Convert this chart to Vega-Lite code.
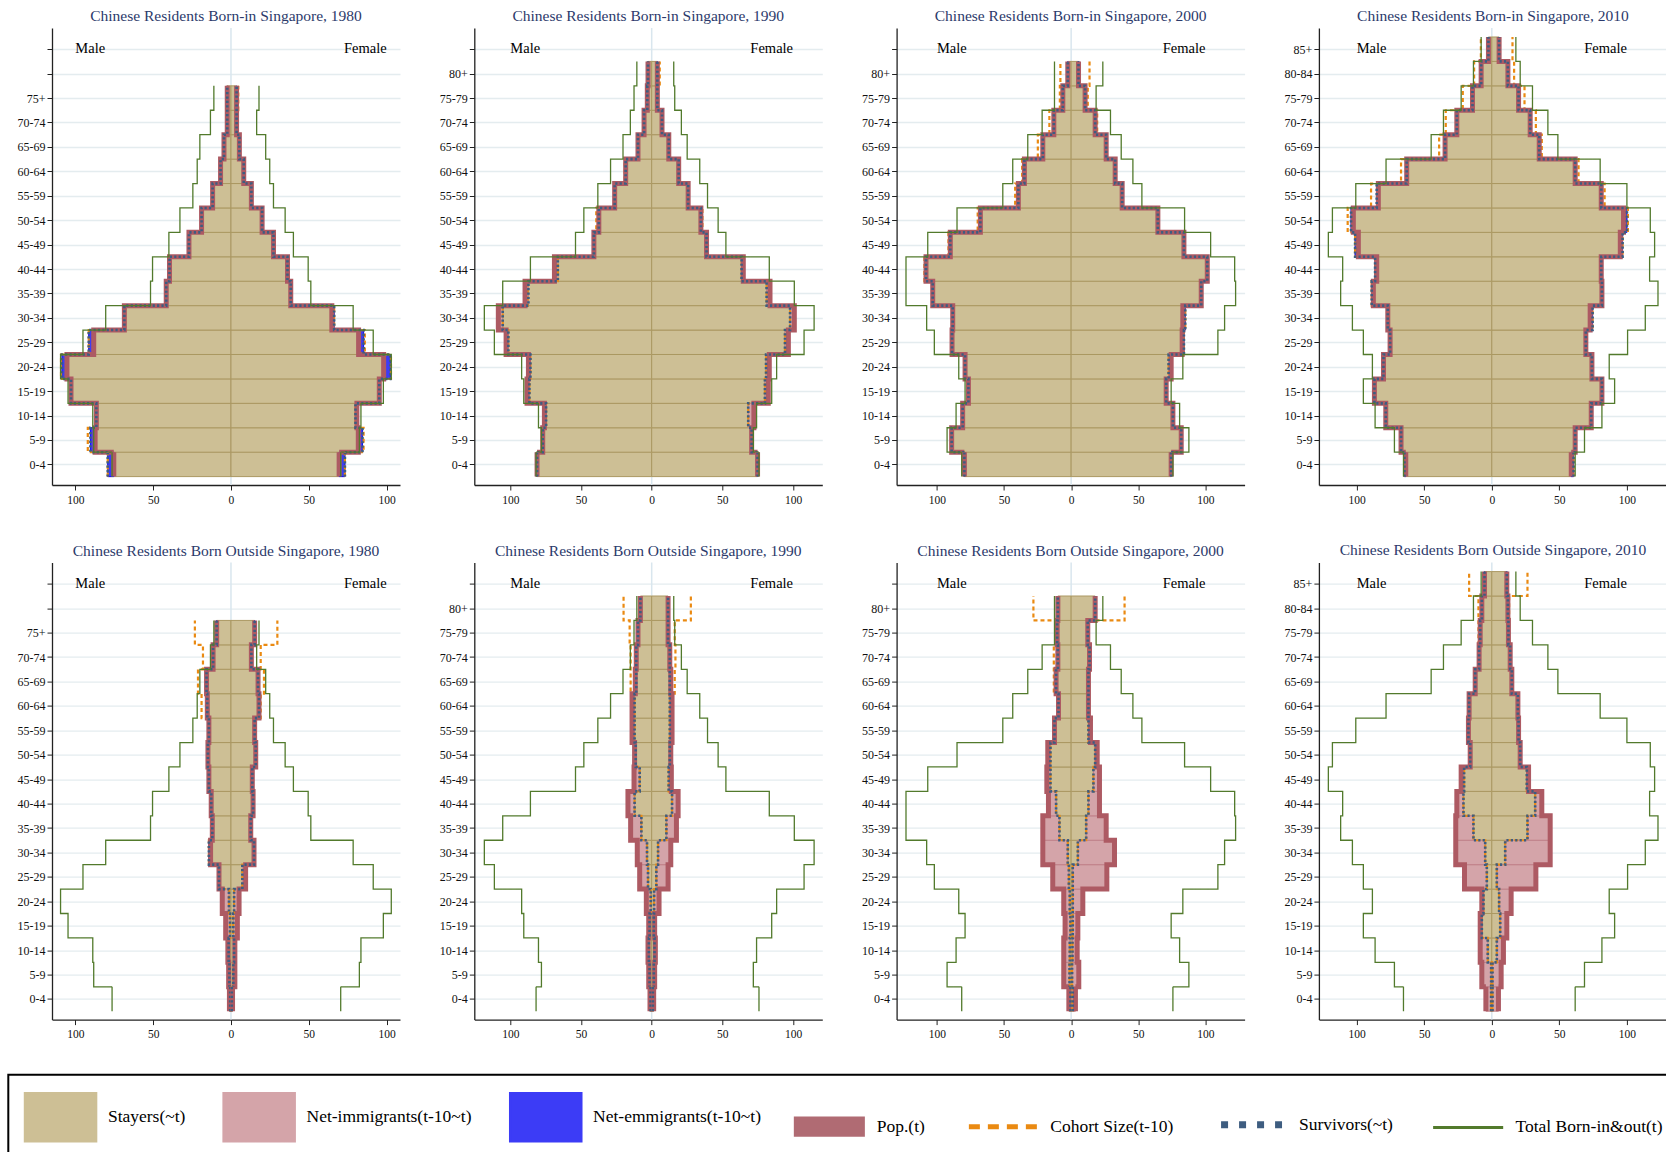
{
"$schema": "https://vega.github.io/schema/vega-lite/v6.json",
"padding": {"left": 0, "top": 8, "right": 0, "bottom": 0},
"background": "white",
"config": {
 "view": {"stroke": null},
 "font": "Liberation Serif",
 "title": {"font": "Liberation Serif", "fontSize": 15.5, "fontWeight": "normal", "color": "#2c3a6b", "frame": "group", "offset": 2.7},
 "axis": {"labelFont": "Liberation Serif", "labelColor": "#111", "domainColor": "#222", "domainWidth": 1.3, "tickColor": "#222", "tickSize": 5, "tickWidth": 1, "gridColor": "#e4ecef", "gridWidth": 1.4, "labelPadding": 2, "labelOverlap": false},
 "axisY": {"grid": true, "labelFontSize": 12, "minExtent": 51.7, "maxExtent": 51.7},
 "axisX": {"grid": false, "labelFontSize": 11.5, "labelPadding": 4, "minExtent": 28, "maxExtent": 28}
},
"datasets": {
 "A": [
  {"s":"M","lo":0,"hi":5,"pop":-75.3,"surv":-79.2,"coh":-79.2,"tot":-76.4},
  {"s":"M","lo":5,"hi":10,"pop":-87.3,"surv":-90.3,"coh":-92,"tot":-88.2},
  {"s":"M","lo":10,"hi":15,"pop":-86.5,"surv":-86.5,"coh":-86.5,"tot":-88.8},
  {"s":"M","lo":15,"hi":20,"pop":-102.8,"surv":-102.8,"coh":-102.8,"tot":-104.7},
  {"s":"M","lo":20,"hi":25,"pop":-105.4,"surv":-108.6,"coh":-109.2,"tot":-109.5},
  {"s":"M","lo":25,"hi":30,"pop":-88.2,"surv":-91.4,"coh":-91.4,"tot":-95.1},
  {"s":"M","lo":30,"hi":35,"pop":-68.5,"surv":-68.5,"coh":-68.5,"tot":-80.5},
  {"s":"M","lo":35,"hi":40,"pop":-41.6,"surv":-41.6,"coh":-41.6,"tot":-51.7},
  {"s":"M","lo":40,"hi":45,"pop":-39.5,"surv":-39.5,"coh":-39.5,"tot":-50.4},
  {"s":"M","lo":45,"hi":50,"pop":-27,"surv":-27,"coh":-27,"tot":-39.9},
  {"s":"M","lo":50,"hi":55,"pop":-18.9,"surv":-18.9,"coh":-18.9,"tot":-32.8},
  {"s":"M","lo":55,"hi":60,"pop":-11.8,"surv":-11.8,"coh":-11.8,"tot":-24.5},
  {"s":"M","lo":60,"hi":65,"pop":-6.7,"surv":-6.7,"coh":-6.7,"tot":-21.7},
  {"s":"M","lo":65,"hi":70,"pop":-4.5,"surv":-4.5,"coh":-4.5,"tot":-20},
  {"s":"M","lo":70,"hi":75,"pop":-2.4,"surv":-2.4,"coh":-2.4,"tot":-13.2},
  {"s":"M","lo":75,"hi":80,"pop":-2.4,"surv":-2.4,"coh":-2.4,"tot":-11},
  {"s":"F","lo":0,"hi":5,"pop":69.5,"surv":73.2,"coh":73.2,"tot":70.5},
  {"s":"F","lo":5,"hi":10,"pop":81.8,"surv":84.5,"coh":85.2,"tot":82.5},
  {"s":"F","lo":10,"hi":15,"pop":80.9,"surv":80,"coh":80,"tot":83.5},
  {"s":"F","lo":15,"hi":20,"pop":95.3,"surv":95.3,"coh":95.3,"tot":97.9},
  {"s":"F","lo":20,"hi":25,"pop":98.1,"surv":102.4,"coh":102.8,"tot":103},
  {"s":"F","lo":25,"hi":30,"pop":82,"surv":85.2,"coh":86,"tot":91.4},
  {"s":"F","lo":30,"hi":35,"pop":64.8,"surv":66.3,"coh":66.3,"tot":78.5},
  {"s":"F","lo":35,"hi":40,"pop":38.4,"surv":38.4,"coh":38.4,"tot":51.3},
  {"s":"F","lo":40,"hi":45,"pop":36.3,"surv":36.3,"coh":36.3,"tot":49.6},
  {"s":"F","lo":45,"hi":50,"pop":27.3,"surv":27.3,"coh":27.3,"tot":40.1},
  {"s":"F","lo":50,"hi":55,"pop":20,"surv":20,"coh":20,"tot":34.8},
  {"s":"F","lo":55,"hi":60,"pop":13.1,"surv":13.1,"coh":13.1,"tot":27.3},
  {"s":"F","lo":60,"hi":65,"pop":8.2,"surv":8.2,"coh":8.2,"tot":24.9},
  {"s":"F","lo":65,"hi":70,"pop":5.4,"surv":5.4,"coh":5.4,"tot":22.3},
  {"s":"F","lo":70,"hi":75,"pop":3.6,"surv":3.6,"coh":3.6,"tot":16.5},
  {"s":"F","lo":75,"hi":80,"pop":3.6,"surv":3.6,"coh":4.7,"tot":18}
 ],
 "E": [
  {"s":"M","lo":0,"hi":5,"pop":-1,"surv":-0.5,"coh":-0.5,"tot":-76.4},
  {"s":"M","lo":5,"hi":10,"pop":-1.5,"surv":-1,"coh":-1,"tot":-88.2},
  {"s":"M","lo":10,"hi":15,"pop":-2,"surv":-1.5,"coh":-1.5,"tot":-88.8},
  {"s":"M","lo":15,"hi":20,"pop":-3.4,"surv":-0.6,"coh":-0.6,"tot":-104.7},
  {"s":"M","lo":20,"hi":25,"pop":-5.6,"surv":-1.3,"coh":-1.3,"tot":-109.5},
  {"s":"M","lo":25,"hi":30,"pop":-7.7,"surv":-7.7,"coh":-7.7,"tot":-95.1},
  {"s":"M","lo":30,"hi":35,"pop":-13.1,"surv":-14.2,"coh":-14.2,"tot":-80.5},
  {"s":"M","lo":35,"hi":40,"pop":-12,"surv":-12,"coh":-12,"tot":-51.7},
  {"s":"M","lo":40,"hi":45,"pop":-12.7,"surv":-12.7,"coh":-12.7,"tot":-50.4},
  {"s":"M","lo":45,"hi":50,"pop":-14.2,"surv":-14.2,"coh":-14.2,"tot":-39.9},
  {"s":"M","lo":50,"hi":55,"pop":-14.8,"surv":-14.8,"coh":-14.8,"tot":-32.8},
  {"s":"M","lo":55,"hi":60,"pop":-14.2,"surv":-14.2,"coh":-14.2,"tot":-24.5},
  {"s":"M","lo":60,"hi":65,"pop":-15.2,"surv":-15.2,"coh":-18.9,"tot":-21.7},
  {"s":"M","lo":65,"hi":70,"pop":-15.7,"surv":-15.7,"coh":-21.2,"tot":-20},
  {"s":"M","lo":70,"hi":75,"pop":-11.5,"surv":-11.5,"coh":-18,"tot":-13.2},
  {"s":"M","lo":75,"hi":80,"pop":-9.2,"surv":-9.2,"coh":-23.2,"tot":-11},
  {"s":"F","lo":0,"hi":5,"pop":1,"surv":0.5,"coh":0.5,"tot":70.5},
  {"s":"F","lo":5,"hi":10,"pop":2.5,"surv":1.5,"coh":1.5,"tot":82.5},
  {"s":"F","lo":10,"hi":15,"pop":2.5,"surv":2,"coh":2,"tot":83.5},
  {"s":"F","lo":15,"hi":20,"pop":4.1,"surv":1.5,"coh":1.5,"tot":97.9},
  {"s":"F","lo":20,"hi":25,"pop":5.2,"surv":2,"coh":2,"tot":103},
  {"s":"F","lo":25,"hi":30,"pop":9.4,"surv":7.3,"coh":7.3,"tot":91.4},
  {"s":"F","lo":30,"hi":35,"pop":14.8,"surv":14.8,"coh":14.8,"tot":78.5},
  {"s":"F","lo":35,"hi":40,"pop":12.7,"surv":12.7,"coh":12.7,"tot":51.3},
  {"s":"F","lo":40,"hi":45,"pop":14.2,"surv":14.2,"coh":14.2,"tot":49.6},
  {"s":"F","lo":45,"hi":50,"pop":13.7,"surv":13.7,"coh":13.7,"tot":40.1},
  {"s":"F","lo":50,"hi":55,"pop":15.9,"surv":15.9,"coh":15.9,"tot":34.8},
  {"s":"F","lo":55,"hi":60,"pop":15.2,"surv":15.2,"coh":15.2,"tot":27.3},
  {"s":"F","lo":60,"hi":65,"pop":18,"surv":18,"coh":19.1,"tot":24.9},
  {"s":"F","lo":65,"hi":70,"pop":17.4,"surv":17.4,"coh":21.2,"tot":22.3},
  {"s":"F","lo":70,"hi":75,"pop":13.1,"surv":13.1,"coh":19.1,"tot":16.5},
  {"s":"F","lo":75,"hi":80,"pop":15.2,"surv":15.2,"coh":29.8,"tot":18}
 ],
 "B": [
  {"s":"M","lo":0,"hi":5,"pop":-81.1,"surv":-81.1,"coh":-81.1,"tot":-81.8},
  {"s":"M","lo":5,"hi":10,"pop":-77.1,"surv":-77.1,"coh":-77.1,"tot":-78},
  {"s":"M","lo":10,"hi":15,"pop":-75.9,"surv":-74.7,"coh":-74.7,"tot":-80.1},
  {"s":"M","lo":15,"hi":20,"pop":-88.2,"surv":-86.5,"coh":-86.5,"tot":-90.5},
  {"s":"M","lo":20,"hi":25,"pop":-87.2,"surv":-85.8,"coh":-85.8,"tot":-92},
  {"s":"M","lo":25,"hi":30,"pop":-103,"surv":-101.4,"coh":-101.4,"tot":-111.3},
  {"s":"M","lo":30,"hi":35,"pop":-108.5,"surv":-105.4,"coh":-105.4,"tot":-118.4},
  {"s":"M","lo":35,"hi":40,"pop":-89.6,"surv":-87.2,"coh":-87.7,"tot":-105.4},
  {"s":"M","lo":40,"hi":45,"pop":-68.8,"surv":-66.4,"coh":-66.4,"tot":-85.8},
  {"s":"M","lo":45,"hi":50,"pop":-40.9,"surv":-40.9,"coh":-40.9,"tot":-53.9},
  {"s":"M","lo":50,"hi":55,"pop":-37.4,"surv":-37.4,"coh":-39.2,"tot":-48},
  {"s":"M","lo":55,"hi":60,"pop":-26.2,"surv":-26.2,"coh":-26.2,"tot":-38.1},
  {"s":"M","lo":60,"hi":65,"pop":-18.4,"surv":-18.4,"coh":-19.1,"tot":-29.1},
  {"s":"M","lo":65,"hi":70,"pop":-9.7,"surv":-9.7,"coh":-9.7,"tot":-20.3},
  {"s":"M","lo":70,"hi":75,"pop":-5.4,"surv":-5.4,"coh":-5.4,"tot":-15.1},
  {"s":"M","lo":75,"hi":80,"pop":-3.1,"surv":-3.1,"coh":-3.1,"tot":-12.5},
  {"s":"M","lo":80,"hi":85,"pop":-2.6,"surv":-2.6,"coh":-2.6,"tot":-10.5},
  {"s":"F","lo":0,"hi":5,"pop":74.9,"surv":74.9,"coh":74.9,"tot":75.9},
  {"s":"F","lo":5,"hi":10,"pop":70.7,"surv":70.7,"coh":70.7,"tot":71.9},
  {"s":"F","lo":10,"hi":15,"pop":72.3,"surv":68.3,"coh":68.3,"tot":74.2},
  {"s":"F","lo":15,"hi":20,"pop":82.5,"surv":80.1,"coh":80.1,"tot":84.9},
  {"s":"F","lo":20,"hi":25,"pop":83.2,"surv":80.9,"coh":80.9,"tot":88.4},
  {"s":"F","lo":25,"hi":30,"pop":96.7,"surv":94.3,"coh":94.3,"tot":107.8},
  {"s":"F","lo":30,"hi":35,"pop":100.9,"surv":97.9,"coh":97.9,"tot":114.9},
  {"s":"F","lo":35,"hi":40,"pop":83.7,"surv":81.3,"coh":81.3,"tot":100.9},
  {"s":"F","lo":40,"hi":45,"pop":64.8,"surv":63.6,"coh":63.6,"tot":83.2},
  {"s":"F","lo":45,"hi":50,"pop":38.8,"surv":38.8,"coh":38.8,"tot":52.5},
  {"s":"F","lo":50,"hi":55,"pop":34.8,"surv":34.8,"coh":35.9,"tot":47},
  {"s":"F","lo":55,"hi":60,"pop":25.8,"surv":25.8,"coh":25.8,"tot":39.5},
  {"s":"F","lo":60,"hi":65,"pop":19.1,"surv":19.1,"coh":19.1,"tot":34},
  {"s":"F","lo":65,"hi":70,"pop":12.1,"surv":12.1,"coh":12.1,"tot":25.1},
  {"s":"F","lo":70,"hi":75,"pop":7.3,"surv":7.3,"coh":7.3,"tot":21},
  {"s":"F","lo":75,"hi":80,"pop":4,"surv":4,"coh":4,"tot":16.3},
  {"s":"F","lo":80,"hi":85,"pop":4,"surv":4,"coh":5.7,"tot":15.6}
 ],
 "F": [
  {"s":"M","lo":0,"hi":5,"pop":-1.2,"surv":-0.8,"coh":-0.8,"tot":-81.8},
  {"s":"M","lo":5,"hi":10,"pop":-2.1,"surv":-1.5,"coh":-1.5,"tot":-78},
  {"s":"M","lo":10,"hi":15,"pop":-2.6,"surv":-2,"coh":-2,"tot":-80.1},
  {"s":"M","lo":15,"hi":20,"pop":-2.1,"surv":-1.5,"coh":-1.5,"tot":-90.5},
  {"s":"M","lo":20,"hi":25,"pop":-3.8,"surv":-0.7,"coh":-0.7,"tot":-92},
  {"s":"M","lo":25,"hi":30,"pop":-8.5,"surv":-2.6,"coh":-2.6,"tot":-111.3},
  {"s":"M","lo":30,"hi":35,"pop":-10.2,"surv":-3.3,"coh":-3.3,"tot":-118.4},
  {"s":"M","lo":35,"hi":40,"pop":-14.9,"surv":-7.3,"coh":-7.3,"tot":-105.4},
  {"s":"M","lo":40,"hi":45,"pop":-16.8,"surv":-12.1,"coh":-12.1,"tot":-85.8},
  {"s":"M","lo":45,"hi":50,"pop":-12.5,"surv":-8.5,"coh":-8.5,"tot":-53.9},
  {"s":"M","lo":50,"hi":55,"pop":-12.1,"surv":-11.3,"coh":-11.3,"tot":-48},
  {"s":"M","lo":55,"hi":60,"pop":-13.9,"surv":-12.1,"coh":-12.1,"tot":-38.1},
  {"s":"M","lo":60,"hi":65,"pop":-13.9,"surv":-12.1,"coh":-12.1,"tot":-29.1},
  {"s":"M","lo":65,"hi":70,"pop":-11.6,"surv":-10.9,"coh":-14.9,"tot":-20.3},
  {"s":"M","lo":70,"hi":75,"pop":-10.9,"surv":-10.9,"coh":-14.9,"tot":-15.1},
  {"s":"M","lo":75,"hi":80,"pop":-9.7,"surv":-9.7,"coh":-15.6,"tot":-12.5},
  {"s":"M","lo":80,"hi":85,"pop":-8,"surv":-8,"coh":-19.9,"tot":-10.5},
  {"s":"F","lo":0,"hi":5,"pop":1.4,"surv":0.8,"coh":0.8,"tot":75.9},
  {"s":"F","lo":5,"hi":10,"pop":2.1,"surv":1.5,"coh":1.5,"tot":71.9},
  {"s":"F","lo":10,"hi":15,"pop":2.6,"surv":2,"coh":2,"tot":74.2},
  {"s":"F","lo":15,"hi":20,"pop":2.1,"surv":1.5,"coh":1.5,"tot":84.9},
  {"s":"F","lo":20,"hi":25,"pop":5.2,"surv":1.7,"coh":1.7,"tot":88.4},
  {"s":"F","lo":25,"hi":30,"pop":11.6,"surv":3.3,"coh":3.3,"tot":107.8},
  {"s":"F","lo":30,"hi":35,"pop":13.5,"surv":4.5,"coh":4.5,"tot":114.9},
  {"s":"F","lo":35,"hi":40,"pop":17.5,"surv":10.4,"coh":10.4,"tot":100.9},
  {"s":"F","lo":40,"hi":45,"pop":18.7,"surv":14.4,"coh":14.4,"tot":83.2},
  {"s":"F","lo":45,"hi":50,"pop":13.9,"surv":12,"coh":12,"tot":52.5},
  {"s":"F","lo":50,"hi":55,"pop":13.5,"surv":12.8,"coh":12.8,"tot":47},
  {"s":"F","lo":55,"hi":60,"pop":14.4,"surv":12.8,"coh":12.8,"tot":39.5},
  {"s":"F","lo":60,"hi":65,"pop":14.4,"surv":12.8,"coh":12.8,"tot":34},
  {"s":"F","lo":65,"hi":70,"pop":13.5,"surv":12.8,"coh":16.3,"tot":25.1},
  {"s":"F","lo":70,"hi":75,"pop":12.8,"surv":12.8,"coh":16.8,"tot":21},
  {"s":"F","lo":75,"hi":80,"pop":11.6,"surv":11.6,"coh":16.3,"tot":16.3},
  {"s":"F","lo":80,"hi":85,"pop":11.6,"surv":11.6,"coh":27.7,"tot":15.6}
 ],
 "C": [
  {"s":"M","lo":0,"hi":5,"pop":-79.5,"surv":-79.5,"coh":-79.5,"tot":-81.5},
  {"s":"M","lo":5,"hi":10,"pop":-89,"surv":-89,"coh":-89,"tot":-92.4},
  {"s":"M","lo":10,"hi":15,"pop":-80.8,"surv":-80.8,"coh":-80.8,"tot":-85.7},
  {"s":"M","lo":15,"hi":20,"pop":-76.5,"surv":-76.5,"coh":-76.5,"tot":-79},
  {"s":"M","lo":20,"hi":25,"pop":-79,"surv":-79,"coh":-79,"tot":-83.7},
  {"s":"M","lo":25,"hi":30,"pop":-88.7,"surv":-88.7,"coh":-88.7,"tot":-101.9},
  {"s":"M","lo":30,"hi":35,"pop":-88.2,"surv":-88.2,"coh":-88.2,"tot":-107.6},
  {"s":"M","lo":35,"hi":40,"pop":-103.1,"surv":-103.1,"coh":-103.1,"tot":-123},
  {"s":"M","lo":40,"hi":45,"pop":-108.1,"surv":-108.1,"coh":-109.3,"tot":-123},
  {"s":"M","lo":45,"hi":50,"pop":-90,"surv":-90,"coh":-91.4,"tot":-106.8},
  {"s":"M","lo":50,"hi":55,"pop":-67.6,"surv":-67.6,"coh":-69.6,"tot":-85},
  {"s":"M","lo":55,"hi":60,"pop":-39.3,"surv":-39.3,"coh":-41.7,"tot":-50.9},
  {"s":"M","lo":60,"hi":65,"pop":-34.8,"surv":-34.8,"coh":-36.5,"tot":-43.5},
  {"s":"M","lo":65,"hi":70,"pop":-21.1,"surv":-21.1,"coh":-24.8,"tot":-32.3},
  {"s":"M","lo":70,"hi":75,"pop":-12.9,"surv":-12.9,"coh":-16.2,"tot":-21.6},
  {"s":"M","lo":75,"hi":80,"pop":-6.2,"surv":-6.2,"coh":-8.4,"tot":-12.4},
  {"s":"M","lo":80,"hi":85,"pop":-2.5,"surv":-2.5,"coh":-8,"tot":-12.4},
  {"s":"F","lo":0,"hi":5,"pop":74.5,"surv":74.5,"coh":74.5,"tot":75.8},
  {"s":"F","lo":5,"hi":10,"pop":82,"surv":82,"coh":82,"tot":87.7},
  {"s":"F","lo":10,"hi":15,"pop":75.8,"surv":75.8,"coh":75.8,"tot":80.8},
  {"s":"F","lo":15,"hi":20,"pop":70.8,"surv":70.8,"coh":70.8,"tot":74.5},
  {"s":"F","lo":20,"hi":25,"pop":74.5,"surv":72.6,"coh":72.6,"tot":83.2},
  {"s":"F","lo":25,"hi":30,"pop":82.7,"surv":84,"coh":84,"tot":109.3},
  {"s":"F","lo":30,"hi":35,"pop":83.2,"surv":85,"coh":85,"tot":114.3},
  {"s":"F","lo":35,"hi":40,"pop":96.9,"surv":96.9,"coh":96.9,"tot":122.5},
  {"s":"F","lo":40,"hi":45,"pop":101.4,"surv":101.4,"coh":101.4,"tot":121.8},
  {"s":"F","lo":45,"hi":50,"pop":84,"surv":84,"coh":84,"tot":103.9},
  {"s":"F","lo":50,"hi":55,"pop":64.6,"surv":64.6,"coh":64.6,"tot":84.5},
  {"s":"F","lo":55,"hi":60,"pop":38,"surv":38,"coh":38,"tot":52.7},
  {"s":"F","lo":60,"hi":65,"pop":32.8,"surv":32.8,"coh":32.8,"tot":46},
  {"s":"F","lo":65,"hi":70,"pop":26.1,"surv":26.1,"coh":26.1,"tot":37.3},
  {"s":"F","lo":70,"hi":75,"pop":17.9,"surv":17.9,"coh":19.4,"tot":29.3},
  {"s":"F","lo":75,"hi":80,"pop":10.4,"surv":10.4,"coh":12.4,"tot":18.6},
  {"s":"F","lo":80,"hi":85,"pop":5.5,"surv":5.5,"coh":13.7,"tot":23.6}
 ],
 "G": [
  {"s":"M","lo":0,"hi":5,"pop":-1.7,"surv":-0.5,"coh":-0.5,"tot":-81.5},
  {"s":"M","lo":5,"hi":10,"pop":-5.5,"surv":-1.2,"coh":-1.2,"tot":-92.4},
  {"s":"M","lo":10,"hi":15,"pop":-5.5,"surv":-1,"coh":-1,"tot":-85.7},
  {"s":"M","lo":15,"hi":20,"pop":-4.5,"surv":-0.5,"coh":-0.5,"tot":-79},
  {"s":"M","lo":20,"hi":25,"pop":-5.5,"surv":-1,"coh":-1,"tot":-83.7},
  {"s":"M","lo":25,"hi":30,"pop":-13.7,"surv":-1.7,"coh":-1.7,"tot":-101.9},
  {"s":"M","lo":30,"hi":35,"pop":-21.1,"surv":-2.5,"coh":-2.5,"tot":-107.6},
  {"s":"M","lo":35,"hi":40,"pop":-21.1,"surv":-8.7,"coh":-8.7,"tot":-123},
  {"s":"M","lo":40,"hi":45,"pop":-16.9,"surv":-11.2,"coh":-11.2,"tot":-123},
  {"s":"M","lo":45,"hi":50,"pop":-18.1,"surv":-15.4,"coh":-15.4,"tot":-106.8},
  {"s":"M","lo":50,"hi":55,"pop":-17.4,"surv":-15.4,"coh":-15.4,"tot":-85},
  {"s":"M","lo":55,"hi":60,"pop":-12.4,"surv":-12.4,"coh":-12.4,"tot":-50.9},
  {"s":"M","lo":60,"hi":65,"pop":-9.4,"surv":-9.4,"coh":-9.4,"tot":-43.5},
  {"s":"M","lo":65,"hi":70,"pop":-11.2,"surv":-11.2,"coh":-12.9,"tot":-32.3},
  {"s":"M","lo":70,"hi":75,"pop":-9.9,"surv":-9.9,"coh":-12.9,"tot":-21.6},
  {"s":"M","lo":75,"hi":80,"pop":-10.4,"surv":-10.4,"coh":-11.9,"tot":-12.4},
  {"s":"M","lo":80,"hi":85,"pop":-9.9,"surv":-9.9,"coh":-28.1,"tot":-12.4},
  {"s":"F","lo":0,"hi":5,"pop":3.2,"surv":1.2,"coh":1.2,"tot":75.8},
  {"s":"F","lo":5,"hi":10,"pop":5.7,"surv":0.7,"coh":0.7,"tot":87.7},
  {"s":"F","lo":10,"hi":15,"pop":4.5,"surv":1,"coh":1,"tot":80.8},
  {"s":"F","lo":15,"hi":20,"pop":5,"surv":1.2,"coh":1.2,"tot":74.5},
  {"s":"F","lo":20,"hi":25,"pop":8.7,"surv":1.2,"coh":1.2,"tot":83.2},
  {"s":"F","lo":25,"hi":30,"pop":26.6,"surv":1.2,"coh":1.2,"tot":109.3},
  {"s":"F","lo":30,"hi":35,"pop":32.3,"surv":5,"coh":5,"tot":114.3},
  {"s":"F","lo":35,"hi":40,"pop":26.1,"surv":11.2,"coh":11.2,"tot":122.5},
  {"s":"F","lo":40,"hi":45,"pop":21.1,"surv":12.9,"coh":12.9,"tot":121.8},
  {"s":"F","lo":45,"hi":50,"pop":21.1,"surv":16.6,"coh":16.6,"tot":103.9},
  {"s":"F","lo":50,"hi":55,"pop":19.4,"surv":17.9,"coh":17.9,"tot":84.5},
  {"s":"F","lo":55,"hi":60,"pop":14.4,"surv":12.9,"coh":12.9,"tot":52.7},
  {"s":"F","lo":60,"hi":65,"pop":12.9,"surv":12.9,"coh":12.9,"tot":46},
  {"s":"F","lo":65,"hi":70,"pop":12.9,"surv":12.9,"coh":12.9,"tot":37.3},
  {"s":"F","lo":70,"hi":75,"pop":13.7,"surv":13.7,"coh":13.7,"tot":29.3},
  {"s":"F","lo":75,"hi":80,"pop":12.4,"surv":12.4,"coh":12.9,"tot":18.6},
  {"s":"F","lo":80,"hi":85,"pop":17.9,"surv":17.9,"coh":39.8,"tot":23.6}
 ],
 "D": [
  {"s":"M","lo":0,"hi":5,"pop":-63.7,"surv":-64.7,"coh":-64.7,"tot":-65.4},
  {"s":"M","lo":5,"hi":10,"pop":-67.2,"surv":-67.2,"coh":-67.2,"tot":-72.1},
  {"s":"M","lo":10,"hi":15,"pop":-78.5,"surv":-78.5,"coh":-78.5,"tot":-86.4},
  {"s":"M","lo":15,"hi":20,"pop":-86.9,"surv":-86.9,"coh":-86.9,"tot":-95.1},
  {"s":"M","lo":20,"hi":25,"pop":-80.2,"surv":-80.2,"coh":-80.2,"tot":-88.4},
  {"s":"M","lo":25,"hi":30,"pop":-75.3,"surv":-75.3,"coh":-75.3,"tot":-95.1},
  {"s":"M","lo":30,"hi":35,"pop":-77,"surv":-77,"coh":-77,"tot":-103.2},
  {"s":"M","lo":35,"hi":40,"pop":-87.7,"surv":-88.9,"coh":-88.9,"tot":-111.9},
  {"s":"M","lo":40,"hi":45,"pop":-85.2,"surv":-86.4,"coh":-86.4,"tot":-110.4},
  {"s":"M","lo":45,"hi":50,"pop":-98.8,"surv":-101.2,"coh":-101.2,"tot":-121},
  {"s":"M","lo":50,"hi":55,"pop":-102.5,"surv":-104.2,"coh":-106.7,"tot":-118},
  {"s":"M","lo":55,"hi":60,"pop":-84,"surv":-85.2,"coh":-89.4,"tot":-100.7},
  {"s":"M","lo":60,"hi":65,"pop":-63,"surv":-63,"coh":-67.2,"tot":-78.3},
  {"s":"M","lo":65,"hi":70,"pop":-34.6,"surv":-34.6,"coh":-39,"tot":-44.9},
  {"s":"M","lo":70,"hi":75,"pop":-25.9,"surv":-25.9,"coh":-34.1,"tot":-35.8},
  {"s":"M","lo":75,"hi":80,"pop":-14.3,"surv":-14.3,"coh":-21.5,"tot":-22.7},
  {"s":"M","lo":80,"hi":85,"pop":-7.9,"surv":-7.9,"coh":-13.1,"tot":-13.6},
  {"s":"M","lo":85,"hi":90,"pop":-2.5,"surv":-2.5,"coh":-8.1,"tot":-7.9},
  {"s":"F","lo":0,"hi":5,"pop":58.8,"surv":60.5,"coh":60.5,"tot":61.7},
  {"s":"F","lo":5,"hi":10,"pop":61.7,"surv":61.7,"coh":61.7,"tot":68.6},
  {"s":"F","lo":10,"hi":15,"pop":73.6,"surv":73.6,"coh":73.6,"tot":81.5},
  {"s":"F","lo":15,"hi":20,"pop":81.5,"surv":81.5,"coh":81.5,"tot":90.9},
  {"s":"F","lo":20,"hi":25,"pop":74.1,"surv":74.1,"coh":74.1,"tot":86.9},
  {"s":"F","lo":25,"hi":30,"pop":69.6,"surv":69.6,"coh":69.6,"tot":100.5},
  {"s":"F","lo":30,"hi":35,"pop":72.8,"surv":74.6,"coh":74.6,"tot":113.6},
  {"s":"F","lo":35,"hi":40,"pop":81.5,"surv":81.5,"coh":81.5,"tot":123},
  {"s":"F","lo":40,"hi":45,"pop":81,"surv":81,"coh":81,"tot":116.8},
  {"s":"F","lo":45,"hi":50,"pop":95.1,"surv":96.8,"coh":96.8,"tot":120.5},
  {"s":"F","lo":50,"hi":55,"pop":97.5,"surv":100,"coh":100.7,"tot":117.3},
  {"s":"F","lo":55,"hi":60,"pop":81,"surv":81,"coh":83.5,"tot":100},
  {"s":"F","lo":60,"hi":65,"pop":61.7,"surv":61.7,"coh":64.2,"tot":80.2},
  {"s":"F","lo":65,"hi":70,"pop":35.1,"surv":35.1,"coh":37,"tot":48.9},
  {"s":"F","lo":70,"hi":75,"pop":28.4,"surv":28.4,"coh":32.6,"tot":41.5},
  {"s":"F","lo":75,"hi":80,"pop":19.8,"surv":19.8,"coh":24.2,"tot":30.1},
  {"s":"F","lo":80,"hi":85,"pop":11.9,"surv":11.9,"coh":16.5,"tot":21},
  {"s":"F","lo":85,"hi":90,"pop":5.4,"surv":5.4,"coh":15.3,"tot":17.8}
 ],
 "H": [
  {"s":"M","lo":0,"hi":5,"pop":-4.4,"surv":-0.5,"coh":-0.5,"tot":-65.4},
  {"s":"M","lo":5,"hi":10,"pop":-7.4,"surv":-0.5,"coh":-0.5,"tot":-72.1},
  {"s":"M","lo":10,"hi":15,"pop":-8.6,"surv":-3,"coh":-3,"tot":-86.4},
  {"s":"M","lo":15,"hi":20,"pop":-8.6,"surv":-7.4,"coh":-7.4,"tot":-95.1},
  {"s":"M","lo":20,"hi":25,"pop":-7.4,"surv":-6.2,"coh":-6.2,"tot":-88.4},
  {"s":"M","lo":25,"hi":30,"pop":-20.2,"surv":-3.7,"coh":-3.7,"tot":-95.1},
  {"s":"M","lo":30,"hi":35,"pop":-26.7,"surv":-4.9,"coh":-4.9,"tot":-103.2},
  {"s":"M","lo":35,"hi":40,"pop":-26.7,"surv":-13.6,"coh":-13.6,"tot":-111.9},
  {"s":"M","lo":40,"hi":45,"pop":-25.9,"surv":-21,"coh":-21,"tot":-110.4},
  {"s":"M","lo":45,"hi":50,"pop":-22.7,"surv":-20.5,"coh":-20.5,"tot":-121},
  {"s":"M","lo":50,"hi":55,"pop":-16,"surv":-16,"coh":-16,"tot":-118},
  {"s":"M","lo":55,"hi":60,"pop":-17.3,"surv":-17.3,"coh":-17.3,"tot":-100.7},
  {"s":"M","lo":60,"hi":65,"pop":-16.8,"surv":-16.8,"coh":-16.8,"tot":-78.3},
  {"s":"M","lo":65,"hi":70,"pop":-12.3,"surv":-12.3,"coh":-12.3,"tot":-44.9},
  {"s":"M","lo":70,"hi":75,"pop":-9.4,"surv":-9.4,"coh":-9.4,"tot":-35.8},
  {"s":"M","lo":75,"hi":80,"pop":-8.6,"surv":-8.6,"coh":-9.9,"tot":-22.7},
  {"s":"M","lo":80,"hi":85,"pop":-7.4,"surv":-7.4,"coh":-9.9,"tot":-13.6},
  {"s":"M","lo":85,"hi":90,"pop":-5.4,"surv":-5.4,"coh":-16.8,"tot":-7.9},
  {"s":"F","lo":0,"hi":5,"pop":4.9,"surv":0.5,"coh":0.5,"tot":61.7},
  {"s":"F","lo":5,"hi":10,"pop":6.9,"surv":0.5,"coh":0.5,"tot":68.6},
  {"s":"F","lo":10,"hi":15,"pop":8.6,"surv":3.7,"coh":3.7,"tot":81.5},
  {"s":"F","lo":15,"hi":20,"pop":11.1,"surv":6.2,"coh":6.2,"tot":90.9},
  {"s":"F","lo":20,"hi":25,"pop":14.3,"surv":5.4,"coh":5.4,"tot":86.9},
  {"s":"F","lo":25,"hi":30,"pop":32.6,"surv":3.7,"coh":3.7,"tot":100.5},
  {"s":"F","lo":30,"hi":35,"pop":43.2,"surv":9.9,"coh":9.9,"tot":113.6},
  {"s":"F","lo":35,"hi":40,"pop":43.2,"surv":26.4,"coh":26.4,"tot":123},
  {"s":"F","lo":40,"hi":45,"pop":37,"surv":32.1,"coh":32.1,"tot":116.8},
  {"s":"F","lo":45,"hi":50,"pop":27.2,"surv":25.9,"coh":25.9,"tot":120.5},
  {"s":"F","lo":50,"hi":55,"pop":21,"surv":21,"coh":21,"tot":117.3},
  {"s":"F","lo":55,"hi":60,"pop":19.8,"surv":19.8,"coh":19.8,"tot":100},
  {"s":"F","lo":60,"hi":65,"pop":19.3,"surv":19.3,"coh":19.3,"tot":80.2},
  {"s":"F","lo":65,"hi":70,"pop":14.8,"surv":14.8,"coh":14.8,"tot":48.9},
  {"s":"F","lo":70,"hi":75,"pop":13.6,"surv":13.6,"coh":13.6,"tot":41.5},
  {"s":"F","lo":75,"hi":80,"pop":12.3,"surv":12.3,"coh":12.8,"tot":30.1},
  {"s":"F","lo":80,"hi":85,"pop":11.9,"surv":11.9,"coh":12.8,"tot":21},
  {"s":"F","lo":85,"hi":90,"pop":11.1,"surv":11.1,"coh":26.4,"tot":17.8}
 ]
},
"columns": 4,
"spacing": {"row": 29.6, "column": 22.3},
"concat": [
 {"title": "Chinese Residents Born-in Singapore, 1980", "width": 348, "height": 457, "data": {"name": "A"},
  "layer": [
   {"data": {"values": [{}]}, "mark": {"type": "rule", "color": "#d9e6ee", "strokeWidth": 1.5}, "encoding": {"x": {"datum": 0, "type": "quantitative", "scale": {"domain": [-115, 108.6], "nice": false, "zero": false}, "axis": {"title": null, "labelOverlap": false, "tickCount": 40, "values": [-100,-50,0,50,100], "labelExpr": "abs(datum.value)"}}}},
   {"mark": {"type": "bar", "fill": "#cdbf95", "stroke": "#ab9862", "strokeWidth": 1}, "encoding": {"x": {"field": "surv", "type": "quantitative", "title": null}, "x2": {"datum": 0}, "y": {"field": "lo", "type": "quantitative", "title": null, "scale": {"domain": [-1.72, 91.84], "nice": false, "zero": false}, "axis": {"title": null, "labelOverlap": false, "tickCount": 40, "values": [2.5,7.5,12.5,17.5,22.5,27.5,32.5,37.5,42.5,47.5,52.5,57.5,62.5,67.5,72.5,77.5,82.5,87.5], "labelExpr": "datum.value < 75 ? (datum.value - 2.5) + '-' + (datum.value + 1.5) : datum.value == 77.5 ? '75+' : ''"}}, "y2": {"field": "hi"}}},
   {"mark": {"type": "bar", "strokeWidth": 1}, "encoding": {"x": {"field": "surv", "type": "quantitative", "title": null}, "x2": {"field": "pop"}, "y": {"field": "lo", "type": "quantitative", "title": null}, "y2": {"field": "hi"}, "fill": {"condition": {"test": "abs(datum.pop) > abs(datum.surv)", "value": "#d4a4a9"}, "value": "#3c3cf6"}, "stroke": {"condition": {"test": "abs(datum.pop) > abs(datum.surv)", "value": "#c08189"}, "value": "#1010ff"}}},
   {"transform": [{"fold": ["coh","pop","surv","tot"], "as": ["series","v"]}], "mark": {"type": "line", "interpolate": "step-after"}, "encoding": {"x": {"field": "v", "type": "quantitative", "title": null}, "y": {"field": "hi", "type": "quantitative", "title": null}, "order": {"field": "hi", "type": "quantitative"}, "detail": {"field": "s", "type": "nominal"},
     "color": {"field": "series", "type": "nominal", "scale": {"domain": ["stay","imm","emi","pop","coh","surv","tot"], "range": ["#cdbf95","#d4a4a9","#3c3cf6","#ad5a63","#ea8a12","#3e5d80","#527a2c"]},
       "legend": {"title": " ", "titleFontSize": 1, "titlePadding": 13, "orient": "none", "legendX": -43.7, "legendY": 1046.8, "direction": "horizontal", "columns": 7, "symbolSize": 2304, "symbolOffset": 24, "labelOffset": 38.6, "columnPadding": 32.6, "padding": 19.5, "labelFont": "Liberation Serif", "labelFontSize": 17.5, "labelColor": "#000", "labelLimit": 400, "strokeColor": "#000",
         "labelExpr": "datum.value == 'stay' ? 'Stayers(~t)' : datum.value == 'imm' ? 'Net-immigrants(t-10~t)' : datum.value == 'emi' ? 'Net-emmigrants(t-10~t)' : datum.value == 'pop' ? 'Pop.(t)' : datum.value == 'coh' ? 'Cohort Size(t-10)' : datum.value == 'surv' ? 'Survivors(~t)' : 'Total Born-in&out(t)'",
         "encode": {
           "symbols": {"update": {
             "shape": {"signal": "datum.value == 'pop' ? 'M-1.48,-0.42H1.48V0.42H-1.48Z' : datum.value == 'coh' ? 'M-1.42,0H1.42' : datum.value == 'surv' ? 'M-1.27,0H1.27' : datum.value == 'tot' ? 'M-1.46,0H1.46' : 'M-1.48,-1H1.48V1H-1.48Z'"},
             "fill": {"signal": "datum.value == 'stay' ? '#cdbf95' : datum.value == 'imm' ? '#d4a4a9' : datum.value == 'emi' ? '#3c3cf6' : datum.value == 'pop' ? '#b06b73' : 'transparent'"},
             "stroke": {"signal": "datum.value == 'stay' ? '#ab9862' : datum.value == 'imm' ? '#b0646c' : datum.value == 'emi' ? '#0000ff' : datum.value == 'pop' ? '#b06b73' : datum.value == 'coh' ? '#ea8a12' : datum.value == 'surv' ? '#5b7ea5' : '#5a7d34'"},
             "strokeWidth": {"signal": "datum.value == 'coh' ? 5 : datum.value == 'surv' ? 7 : datum.value == 'tot' ? 3 : datum.value == 'pop' ? 0 : 2.5"},
             "strokeDash": {"signal": "datum.value == 'coh' ? [11,8] : datum.value == 'surv' ? [7,11] : [1,0]"},
             "size": {"value": 2304},
             "opacity": {"value": 1}
           }},
           "legend": {"update": {"strokeWidth": {"value": 2}}}
         }}},
     "strokeDash": {"condition": [{"test": "datum.series == 'coh'", "value": [4,3]}, {"test": "datum.series == 'surv'", "value": [2.2,2.2]}], "value": [1,0]},
     "strokeWidth": {"condition": [{"test": "datum.series == 'pop'", "value": 5}, {"test": "datum.series == 'tot'", "value": 1.3}, {"test": "datum.series == 'coh'", "value": 2.2}], "value": 2.6}}},
   {"transform": [{"fold": ["coh","pop","surv","tot"], "as": ["series","v"]}, {"filter": "datum.lo == 0"}], "mark": {"type": "rule"}, "encoding": {"x": {"field": "v", "type": "quantitative", "title": null}, "y": {"field": "lo", "type": "quantitative", "title": null}, "y2": {"field": "hi"}, "color": {"field": "series", "type": "nominal"},
     "strokeDash": {"condition": [{"test": "datum.series == 'coh'", "value": [4,3]}, {"test": "datum.series == 'surv'", "value": [2.2,2.2]}], "value": [1,0]},
     "strokeWidth": {"condition": [{"test": "datum.series == 'pop'", "value": 5}, {"test": "datum.series == 'tot'", "value": 1.3}, {"test": "datum.series == 'coh'", "value": 2.2}], "value": 2.6}}},
   {"data": {"values": [{"t": "Male"}]}, "mark": {"type": "text", "align": "left", "baseline": "middle", "fontSize": 14.5, "font": "Liberation Serif", "color": "#000"}, "encoding": {"text": {"field": "t"}, "x": {"datum": -100}, "y": {"datum": 87.5}}},
   {"data": {"values": [{"t": "Female"}]}, "mark": {"type": "text", "align": "right", "baseline": "middle", "fontSize": 14.5, "font": "Liberation Serif", "color": "#000"}, "encoding": {"text": {"field": "t"}, "x": {"datum": 100}, "y": {"datum": 87.5}}}
  ]},
 {"title": "Chinese Residents Born-in Singapore, 1990", "width": 348, "height": 457, "data": {"name": "B"},
  "layer": [
   {"data": {"values": [{}]}, "mark": {"type": "rule", "color": "#d9e6ee", "strokeWidth": 1.5}, "encoding": {"x": {"datum": 0, "type": "quantitative", "scale": {"domain": [-125.5, 120.7], "nice": false, "zero": false}, "axis": {"title": null, "labelOverlap": false, "tickCount": 40, "values": [-100,-50,0,50,100], "labelExpr": "abs(datum.value)"}}}},
   {"mark": {"type": "bar", "fill": "#cdbf95", "stroke": "#ab9862", "strokeWidth": 1}, "encoding": {"x": {"field": "surv", "type": "quantitative", "title": null}, "x2": {"datum": 0}, "y": {"field": "lo", "type": "quantitative", "title": null, "scale": {"domain": [-1.72, 91.84], "nice": false, "zero": false}, "axis": {"title": null, "labelOverlap": false, "tickCount": 40, "values": [2.5,7.5,12.5,17.5,22.5,27.5,32.5,37.5,42.5,47.5,52.5,57.5,62.5,67.5,72.5,77.5,82.5,87.5], "labelExpr": "datum.value < 80 ? (datum.value - 2.5) + '-' + (datum.value + 1.5) : datum.value == 82.5 ? '80+' : ''"}}, "y2": {"field": "hi"}}},
   {"mark": {"type": "bar", "strokeWidth": 1}, "encoding": {"x": {"field": "surv", "type": "quantitative", "title": null}, "x2": {"field": "pop"}, "y": {"field": "lo", "type": "quantitative", "title": null}, "y2": {"field": "hi"}, "fill": {"condition": {"test": "abs(datum.pop) > abs(datum.surv)", "value": "#d4a4a9"}, "value": "#3c3cf6"}, "stroke": {"condition": {"test": "abs(datum.pop) > abs(datum.surv)", "value": "#c08189"}, "value": "#1010ff"}}},
   {"transform": [{"fold": ["coh","pop","surv","tot"], "as": ["series","v"]}], "mark": {"type": "line", "interpolate": "step-after"}, "encoding": {"x": {"field": "v", "type": "quantitative", "title": null}, "y": {"field": "hi", "type": "quantitative", "title": null}, "order": {"field": "hi", "type": "quantitative"}, "detail": {"field": "s", "type": "nominal"}, "color": {"field": "series", "type": "nominal"},
     "strokeDash": {"condition": [{"test": "datum.series == 'coh'", "value": [4,3]}, {"test": "datum.series == 'surv'", "value": [2.2,2.2]}], "value": [1,0]},
     "strokeWidth": {"condition": [{"test": "datum.series == 'pop'", "value": 5}, {"test": "datum.series == 'tot'", "value": 1.3}, {"test": "datum.series == 'coh'", "value": 2.2}], "value": 2.6}}},
   {"transform": [{"fold": ["coh","pop","surv","tot"], "as": ["series","v"]}, {"filter": "datum.lo == 0"}], "mark": {"type": "rule"}, "encoding": {"x": {"field": "v", "type": "quantitative", "title": null}, "y": {"field": "lo", "type": "quantitative", "title": null}, "y2": {"field": "hi"}, "color": {"field": "series", "type": "nominal"},
     "strokeDash": {"condition": [{"test": "datum.series == 'coh'", "value": [4,3]}, {"test": "datum.series == 'surv'", "value": [2.2,2.2]}], "value": [1,0]},
     "strokeWidth": {"condition": [{"test": "datum.series == 'pop'", "value": 5}, {"test": "datum.series == 'tot'", "value": 1.3}, {"test": "datum.series == 'coh'", "value": 2.2}], "value": 2.6}}},
   {"data": {"values": [{"t": "Male"}]}, "mark": {"type": "text", "align": "left", "baseline": "middle", "fontSize": 14.5, "font": "Liberation Serif", "color": "#000"}, "encoding": {"text": {"field": "t"}, "x": {"datum": -100}, "y": {"datum": 87.5}}},
   {"data": {"values": [{"t": "Female"}]}, "mark": {"type": "text", "align": "right", "baseline": "middle", "fontSize": 14.5, "font": "Liberation Serif", "color": "#000"}, "encoding": {"text": {"field": "t"}, "x": {"datum": 100}, "y": {"datum": 87.5}}}
  ]},
 {"title": "Chinese Residents Born-in Singapore, 2000", "width": 348, "height": 457, "data": {"name": "C"},
  "layer": [
   {"data": {"values": [{}]}, "mark": {"type": "rule", "color": "#d9e6ee", "strokeWidth": 1.5}, "encoding": {"x": {"datum": 0, "type": "quantitative", "scale": {"domain": [-130, 129.2], "nice": false, "zero": false}, "axis": {"title": null, "labelOverlap": false, "tickCount": 40, "values": [-100,-50,0,50,100], "labelExpr": "abs(datum.value)"}}}},
   {"mark": {"type": "bar", "fill": "#cdbf95", "stroke": "#ab9862", "strokeWidth": 1}, "encoding": {"x": {"field": "surv", "type": "quantitative", "title": null}, "x2": {"datum": 0}, "y": {"field": "lo", "type": "quantitative", "title": null, "scale": {"domain": [-1.72, 91.84], "nice": false, "zero": false}, "axis": {"title": null, "labelOverlap": false, "tickCount": 40, "values": [2.5,7.5,12.5,17.5,22.5,27.5,32.5,37.5,42.5,47.5,52.5,57.5,62.5,67.5,72.5,77.5,82.5,87.5], "labelExpr": "datum.value < 80 ? (datum.value - 2.5) + '-' + (datum.value + 1.5) : datum.value == 82.5 ? '80+' : ''"}}, "y2": {"field": "hi"}}},
   {"mark": {"type": "bar", "strokeWidth": 1}, "encoding": {"x": {"field": "surv", "type": "quantitative", "title": null}, "x2": {"field": "pop"}, "y": {"field": "lo", "type": "quantitative", "title": null}, "y2": {"field": "hi"}, "fill": {"condition": {"test": "abs(datum.pop) > abs(datum.surv)", "value": "#d4a4a9"}, "value": "#3c3cf6"}, "stroke": {"condition": {"test": "abs(datum.pop) > abs(datum.surv)", "value": "#c08189"}, "value": "#1010ff"}}},
   {"transform": [{"fold": ["coh","pop","surv","tot"], "as": ["series","v"]}], "mark": {"type": "line", "interpolate": "step-after"}, "encoding": {"x": {"field": "v", "type": "quantitative", "title": null}, "y": {"field": "hi", "type": "quantitative", "title": null}, "order": {"field": "hi", "type": "quantitative"}, "detail": {"field": "s", "type": "nominal"}, "color": {"field": "series", "type": "nominal"},
     "strokeDash": {"condition": [{"test": "datum.series == 'coh'", "value": [4,3]}, {"test": "datum.series == 'surv'", "value": [2.2,2.2]}], "value": [1,0]},
     "strokeWidth": {"condition": [{"test": "datum.series == 'pop'", "value": 5}, {"test": "datum.series == 'tot'", "value": 1.3}, {"test": "datum.series == 'coh'", "value": 2.2}], "value": 2.6}}},
   {"transform": [{"fold": ["coh","pop","surv","tot"], "as": ["series","v"]}, {"filter": "datum.lo == 0"}], "mark": {"type": "rule"}, "encoding": {"x": {"field": "v", "type": "quantitative", "title": null}, "y": {"field": "lo", "type": "quantitative", "title": null}, "y2": {"field": "hi"}, "color": {"field": "series", "type": "nominal"},
     "strokeDash": {"condition": [{"test": "datum.series == 'coh'", "value": [4,3]}, {"test": "datum.series == 'surv'", "value": [2.2,2.2]}], "value": [1,0]},
     "strokeWidth": {"condition": [{"test": "datum.series == 'pop'", "value": 5}, {"test": "datum.series == 'tot'", "value": 1.3}, {"test": "datum.series == 'coh'", "value": 2.2}], "value": 2.6}}},
   {"data": {"values": [{"t": "Male"}]}, "mark": {"type": "text", "align": "left", "baseline": "middle", "fontSize": 14.5, "font": "Liberation Serif", "color": "#000"}, "encoding": {"text": {"field": "t"}, "x": {"datum": -100}, "y": {"datum": 87.5}}},
   {"data": {"values": [{"t": "Female"}]}, "mark": {"type": "text", "align": "right", "baseline": "middle", "fontSize": 14.5, "font": "Liberation Serif", "color": "#000"}, "encoding": {"text": {"field": "t"}, "x": {"datum": 100}, "y": {"datum": 87.5}}}
  ]},
 {"title": "Chinese Residents Born-in Singapore, 2010", "width": 348, "height": 457, "data": {"name": "D"},
  "layer": [
   {"data": {"values": [{}]}, "mark": {"type": "rule", "color": "#d9e6ee", "strokeWidth": 1.5}, "encoding": {"x": {"datum": 0, "type": "quantitative", "scale": {"domain": [-128, 129.6], "nice": false, "zero": false}, "axis": {"title": null, "labelOverlap": false, "tickCount": 40, "values": [-100,-50,0,50,100], "labelExpr": "abs(datum.value)"}}}},
   {"mark": {"type": "bar", "fill": "#cdbf95", "stroke": "#ab9862", "strokeWidth": 1}, "encoding": {"x": {"field": "surv", "type": "quantitative", "title": null}, "x2": {"datum": 0}, "y": {"field": "lo", "type": "quantitative", "title": null, "scale": {"domain": [-1.72, 91.84], "nice": false, "zero": false}, "axis": {"title": null, "labelOverlap": false, "tickCount": 40, "values": [2.5,7.5,12.5,17.5,22.5,27.5,32.5,37.5,42.5,47.5,52.5,57.5,62.5,67.5,72.5,77.5,82.5,87.5], "labelExpr": "datum.value < 85 ? (datum.value - 2.5) + '-' + (datum.value + 1.5) : datum.value == 87.5 ? '85+' : ''"}}, "y2": {"field": "hi"}}},
   {"mark": {"type": "bar", "strokeWidth": 1}, "encoding": {"x": {"field": "surv", "type": "quantitative", "title": null}, "x2": {"field": "pop"}, "y": {"field": "lo", "type": "quantitative", "title": null}, "y2": {"field": "hi"}, "fill": {"condition": {"test": "abs(datum.pop) > abs(datum.surv)", "value": "#d4a4a9"}, "value": "#3c3cf6"}, "stroke": {"condition": {"test": "abs(datum.pop) > abs(datum.surv)", "value": "#c08189"}, "value": "#1010ff"}}},
   {"transform": [{"fold": ["coh","pop","surv","tot"], "as": ["series","v"]}], "mark": {"type": "line", "interpolate": "step-after"}, "encoding": {"x": {"field": "v", "type": "quantitative", "title": null}, "y": {"field": "hi", "type": "quantitative", "title": null}, "order": {"field": "hi", "type": "quantitative"}, "detail": {"field": "s", "type": "nominal"}, "color": {"field": "series", "type": "nominal"},
     "strokeDash": {"condition": [{"test": "datum.series == 'coh'", "value": [4,3]}, {"test": "datum.series == 'surv'", "value": [2.2,2.2]}], "value": [1,0]},
     "strokeWidth": {"condition": [{"test": "datum.series == 'pop'", "value": 5}, {"test": "datum.series == 'tot'", "value": 1.3}, {"test": "datum.series == 'coh'", "value": 2.2}], "value": 2.6}}},
   {"transform": [{"fold": ["coh","pop","surv","tot"], "as": ["series","v"]}, {"filter": "datum.lo == 0"}], "mark": {"type": "rule"}, "encoding": {"x": {"field": "v", "type": "quantitative", "title": null}, "y": {"field": "lo", "type": "quantitative", "title": null}, "y2": {"field": "hi"}, "color": {"field": "series", "type": "nominal"},
     "strokeDash": {"condition": [{"test": "datum.series == 'coh'", "value": [4,3]}, {"test": "datum.series == 'surv'", "value": [2.2,2.2]}], "value": [1,0]},
     "strokeWidth": {"condition": [{"test": "datum.series == 'pop'", "value": 5}, {"test": "datum.series == 'tot'", "value": 1.3}, {"test": "datum.series == 'coh'", "value": 2.2}], "value": 2.6}}},
   {"data": {"values": [{"t": "Male"}]}, "mark": {"type": "text", "align": "left", "baseline": "middle", "fontSize": 14.5, "font": "Liberation Serif", "color": "#000"}, "encoding": {"text": {"field": "t"}, "x": {"datum": -100}, "y": {"datum": 87.5}}},
   {"data": {"values": [{"t": "Female"}]}, "mark": {"type": "text", "align": "right", "baseline": "middle", "fontSize": 14.5, "font": "Liberation Serif", "color": "#000"}, "encoding": {"text": {"field": "t"}, "x": {"datum": 100}, "y": {"datum": 87.5}}}
  ]},
 {"title": "Chinese Residents Born Outside Singapore, 1980", "width": 348, "height": 457, "data": {"name": "E"},
  "layer": [
   {"data": {"values": [{}]}, "mark": {"type": "rule", "color": "#d9e6ee", "strokeWidth": 1.5}, "encoding": {"x": {"datum": 0, "type": "quantitative", "scale": {"domain": [-115, 108.6], "nice": false, "zero": false}, "axis": {"title": null, "labelOverlap": false, "tickCount": 40, "values": [-100,-50,0,50,100], "labelExpr": "abs(datum.value)"}}}},
   {"mark": {"type": "bar", "fill": "#cdbf95", "stroke": "#ab9862", "strokeWidth": 1}, "encoding": {"x": {"field": "surv", "type": "quantitative", "title": null}, "x2": {"datum": 0}, "y": {"field": "lo", "type": "quantitative", "title": null, "scale": {"domain": [-1.72, 91.84], "nice": false, "zero": false}, "axis": {"title": null, "labelOverlap": false, "tickCount": 40, "values": [2.5,7.5,12.5,17.5,22.5,27.5,32.5,37.5,42.5,47.5,52.5,57.5,62.5,67.5,72.5,77.5,82.5,87.5], "labelExpr": "datum.value < 75 ? (datum.value - 2.5) + '-' + (datum.value + 1.5) : datum.value == 77.5 ? '75+' : ''"}}, "y2": {"field": "hi"}}},
   {"mark": {"type": "bar", "strokeWidth": 1}, "encoding": {"x": {"field": "surv", "type": "quantitative", "title": null}, "x2": {"field": "pop"}, "y": {"field": "lo", "type": "quantitative", "title": null}, "y2": {"field": "hi"}, "fill": {"condition": {"test": "abs(datum.pop) > abs(datum.surv)", "value": "#d4a4a9"}, "value": "#3c3cf6"}, "stroke": {"condition": {"test": "abs(datum.pop) > abs(datum.surv)", "value": "#c08189"}, "value": "#1010ff"}}},
   {"transform": [{"fold": ["coh","pop","surv","tot"], "as": ["series","v"]}], "mark": {"type": "line", "interpolate": "step-after"}, "encoding": {"x": {"field": "v", "type": "quantitative", "title": null}, "y": {"field": "hi", "type": "quantitative", "title": null}, "order": {"field": "hi", "type": "quantitative"}, "detail": {"field": "s", "type": "nominal"}, "color": {"field": "series", "type": "nominal"},
     "strokeDash": {"condition": [{"test": "datum.series == 'coh'", "value": [4,3]}, {"test": "datum.series == 'surv'", "value": [2.2,2.2]}], "value": [1,0]},
     "strokeWidth": {"condition": [{"test": "datum.series == 'pop'", "value": 5}, {"test": "datum.series == 'tot'", "value": 1.3}, {"test": "datum.series == 'coh'", "value": 2.2}], "value": 2.6}}},
   {"transform": [{"fold": ["coh","pop","surv","tot"], "as": ["series","v"]}, {"filter": "datum.lo == 0"}], "mark": {"type": "rule"}, "encoding": {"x": {"field": "v", "type": "quantitative", "title": null}, "y": {"field": "lo", "type": "quantitative", "title": null}, "y2": {"field": "hi"}, "color": {"field": "series", "type": "nominal"},
     "strokeDash": {"condition": [{"test": "datum.series == 'coh'", "value": [4,3]}, {"test": "datum.series == 'surv'", "value": [2.2,2.2]}], "value": [1,0]},
     "strokeWidth": {"condition": [{"test": "datum.series == 'pop'", "value": 5}, {"test": "datum.series == 'tot'", "value": 1.3}, {"test": "datum.series == 'coh'", "value": 2.2}], "value": 2.6}}},
   {"data": {"values": [{"t": "Male"}]}, "mark": {"type": "text", "align": "left", "baseline": "middle", "fontSize": 14.5, "font": "Liberation Serif", "color": "#000"}, "encoding": {"text": {"field": "t"}, "x": {"datum": -100}, "y": {"datum": 87.5}}},
   {"data": {"values": [{"t": "Female"}]}, "mark": {"type": "text", "align": "right", "baseline": "middle", "fontSize": 14.5, "font": "Liberation Serif", "color": "#000"}, "encoding": {"text": {"field": "t"}, "x": {"datum": 100}, "y": {"datum": 87.5}}}
  ]},
 {"title": "Chinese Residents Born Outside Singapore, 1990", "width": 348, "height": 457, "data": {"name": "F"},
  "layer": [
   {"data": {"values": [{}]}, "mark": {"type": "rule", "color": "#d9e6ee", "strokeWidth": 1.5}, "encoding": {"x": {"datum": 0, "type": "quantitative", "scale": {"domain": [-125.5, 120.7], "nice": false, "zero": false}, "axis": {"title": null, "labelOverlap": false, "tickCount": 40, "values": [-100,-50,0,50,100], "labelExpr": "abs(datum.value)"}}}},
   {"mark": {"type": "bar", "fill": "#cdbf95", "stroke": "#ab9862", "strokeWidth": 1}, "encoding": {"x": {"field": "surv", "type": "quantitative", "title": null}, "x2": {"datum": 0}, "y": {"field": "lo", "type": "quantitative", "title": null, "scale": {"domain": [-1.72, 91.84], "nice": false, "zero": false}, "axis": {"title": null, "labelOverlap": false, "tickCount": 40, "values": [2.5,7.5,12.5,17.5,22.5,27.5,32.5,37.5,42.5,47.5,52.5,57.5,62.5,67.5,72.5,77.5,82.5,87.5], "labelExpr": "datum.value < 80 ? (datum.value - 2.5) + '-' + (datum.value + 1.5) : datum.value == 82.5 ? '80+' : ''"}}, "y2": {"field": "hi"}}},
   {"mark": {"type": "bar", "strokeWidth": 1}, "encoding": {"x": {"field": "surv", "type": "quantitative", "title": null}, "x2": {"field": "pop"}, "y": {"field": "lo", "type": "quantitative", "title": null}, "y2": {"field": "hi"}, "fill": {"condition": {"test": "abs(datum.pop) > abs(datum.surv)", "value": "#d4a4a9"}, "value": "#3c3cf6"}, "stroke": {"condition": {"test": "abs(datum.pop) > abs(datum.surv)", "value": "#c08189"}, "value": "#1010ff"}}},
   {"transform": [{"fold": ["coh","pop","surv","tot"], "as": ["series","v"]}], "mark": {"type": "line", "interpolate": "step-after"}, "encoding": {"x": {"field": "v", "type": "quantitative", "title": null}, "y": {"field": "hi", "type": "quantitative", "title": null}, "order": {"field": "hi", "type": "quantitative"}, "detail": {"field": "s", "type": "nominal"}, "color": {"field": "series", "type": "nominal"},
     "strokeDash": {"condition": [{"test": "datum.series == 'coh'", "value": [4,3]}, {"test": "datum.series == 'surv'", "value": [2.2,2.2]}], "value": [1,0]},
     "strokeWidth": {"condition": [{"test": "datum.series == 'pop'", "value": 5}, {"test": "datum.series == 'tot'", "value": 1.3}, {"test": "datum.series == 'coh'", "value": 2.2}], "value": 2.6}}},
   {"transform": [{"fold": ["coh","pop","surv","tot"], "as": ["series","v"]}, {"filter": "datum.lo == 0"}], "mark": {"type": "rule"}, "encoding": {"x": {"field": "v", "type": "quantitative", "title": null}, "y": {"field": "lo", "type": "quantitative", "title": null}, "y2": {"field": "hi"}, "color": {"field": "series", "type": "nominal"},
     "strokeDash": {"condition": [{"test": "datum.series == 'coh'", "value": [4,3]}, {"test": "datum.series == 'surv'", "value": [2.2,2.2]}], "value": [1,0]},
     "strokeWidth": {"condition": [{"test": "datum.series == 'pop'", "value": 5}, {"test": "datum.series == 'tot'", "value": 1.3}, {"test": "datum.series == 'coh'", "value": 2.2}], "value": 2.6}}},
   {"data": {"values": [{"t": "Male"}]}, "mark": {"type": "text", "align": "left", "baseline": "middle", "fontSize": 14.5, "font": "Liberation Serif", "color": "#000"}, "encoding": {"text": {"field": "t"}, "x": {"datum": -100}, "y": {"datum": 87.5}}},
   {"data": {"values": [{"t": "Female"}]}, "mark": {"type": "text", "align": "right", "baseline": "middle", "fontSize": 14.5, "font": "Liberation Serif", "color": "#000"}, "encoding": {"text": {"field": "t"}, "x": {"datum": 100}, "y": {"datum": 87.5}}}
  ]},
 {"title": "Chinese Residents Born Outside Singapore, 2000", "width": 348, "height": 457, "data": {"name": "G"},
  "layer": [
   {"data": {"values": [{}]}, "mark": {"type": "rule", "color": "#d9e6ee", "strokeWidth": 1.5}, "encoding": {"x": {"datum": 0, "type": "quantitative", "scale": {"domain": [-130, 129.2], "nice": false, "zero": false}, "axis": {"title": null, "labelOverlap": false, "tickCount": 40, "values": [-100,-50,0,50,100], "labelExpr": "abs(datum.value)"}}}},
   {"mark": {"type": "bar", "fill": "#cdbf95", "stroke": "#ab9862", "strokeWidth": 1}, "encoding": {"x": {"field": "surv", "type": "quantitative", "title": null}, "x2": {"datum": 0}, "y": {"field": "lo", "type": "quantitative", "title": null, "scale": {"domain": [-1.72, 91.84], "nice": false, "zero": false}, "axis": {"title": null, "labelOverlap": false, "tickCount": 40, "values": [2.5,7.5,12.5,17.5,22.5,27.5,32.5,37.5,42.5,47.5,52.5,57.5,62.5,67.5,72.5,77.5,82.5,87.5], "labelExpr": "datum.value < 80 ? (datum.value - 2.5) + '-' + (datum.value + 1.5) : datum.value == 82.5 ? '80+' : ''"}}, "y2": {"field": "hi"}}},
   {"mark": {"type": "bar", "strokeWidth": 1}, "encoding": {"x": {"field": "surv", "type": "quantitative", "title": null}, "x2": {"field": "pop"}, "y": {"field": "lo", "type": "quantitative", "title": null}, "y2": {"field": "hi"}, "fill": {"condition": {"test": "abs(datum.pop) > abs(datum.surv)", "value": "#d4a4a9"}, "value": "#3c3cf6"}, "stroke": {"condition": {"test": "abs(datum.pop) > abs(datum.surv)", "value": "#c08189"}, "value": "#1010ff"}}},
   {"transform": [{"fold": ["coh","pop","surv","tot"], "as": ["series","v"]}], "mark": {"type": "line", "interpolate": "step-after"}, "encoding": {"x": {"field": "v", "type": "quantitative", "title": null}, "y": {"field": "hi", "type": "quantitative", "title": null}, "order": {"field": "hi", "type": "quantitative"}, "detail": {"field": "s", "type": "nominal"}, "color": {"field": "series", "type": "nominal"},
     "strokeDash": {"condition": [{"test": "datum.series == 'coh'", "value": [4,3]}, {"test": "datum.series == 'surv'", "value": [2.2,2.2]}], "value": [1,0]},
     "strokeWidth": {"condition": [{"test": "datum.series == 'pop'", "value": 5}, {"test": "datum.series == 'tot'", "value": 1.3}, {"test": "datum.series == 'coh'", "value": 2.2}], "value": 2.6}}},
   {"transform": [{"fold": ["coh","pop","surv","tot"], "as": ["series","v"]}, {"filter": "datum.lo == 0"}], "mark": {"type": "rule"}, "encoding": {"x": {"field": "v", "type": "quantitative", "title": null}, "y": {"field": "lo", "type": "quantitative", "title": null}, "y2": {"field": "hi"}, "color": {"field": "series", "type": "nominal"},
     "strokeDash": {"condition": [{"test": "datum.series == 'coh'", "value": [4,3]}, {"test": "datum.series == 'surv'", "value": [2.2,2.2]}], "value": [1,0]},
     "strokeWidth": {"condition": [{"test": "datum.series == 'pop'", "value": 5}, {"test": "datum.series == 'tot'", "value": 1.3}, {"test": "datum.series == 'coh'", "value": 2.2}], "value": 2.6}}},
   {"data": {"values": [{"t": "Male"}]}, "mark": {"type": "text", "align": "left", "baseline": "middle", "fontSize": 14.5, "font": "Liberation Serif", "color": "#000"}, "encoding": {"text": {"field": "t"}, "x": {"datum": -100}, "y": {"datum": 87.5}}},
   {"data": {"values": [{"t": "Female"}]}, "mark": {"type": "text", "align": "right", "baseline": "middle", "fontSize": 14.5, "font": "Liberation Serif", "color": "#000"}, "encoding": {"text": {"field": "t"}, "x": {"datum": 100}, "y": {"datum": 87.5}}}
  ]},
 {"title": "Chinese Residents Born Outside Singapore, 2010", "width": 348, "height": 457, "data": {"name": "H"},
  "layer": [
   {"data": {"values": [{}]}, "mark": {"type": "rule", "color": "#d9e6ee", "strokeWidth": 1.5}, "encoding": {"x": {"datum": 0, "type": "quantitative", "scale": {"domain": [-128, 129.6], "nice": false, "zero": false}, "axis": {"title": null, "labelOverlap": false, "tickCount": 40, "values": [-100,-50,0,50,100], "labelExpr": "abs(datum.value)"}}}},
   {"mark": {"type": "bar", "fill": "#cdbf95", "stroke": "#ab9862", "strokeWidth": 1}, "encoding": {"x": {"field": "surv", "type": "quantitative", "title": null}, "x2": {"datum": 0}, "y": {"field": "lo", "type": "quantitative", "title": null, "scale": {"domain": [-1.72, 91.84], "nice": false, "zero": false}, "axis": {"title": null, "labelOverlap": false, "tickCount": 40, "values": [2.5,7.5,12.5,17.5,22.5,27.5,32.5,37.5,42.5,47.5,52.5,57.5,62.5,67.5,72.5,77.5,82.5,87.5], "labelExpr": "datum.value < 85 ? (datum.value - 2.5) + '-' + (datum.value + 1.5) : datum.value == 87.5 ? '85+' : ''"}}, "y2": {"field": "hi"}}},
   {"mark": {"type": "bar", "strokeWidth": 1}, "encoding": {"x": {"field": "surv", "type": "quantitative", "title": null}, "x2": {"field": "pop"}, "y": {"field": "lo", "type": "quantitative", "title": null}, "y2": {"field": "hi"}, "fill": {"condition": {"test": "abs(datum.pop) > abs(datum.surv)", "value": "#d4a4a9"}, "value": "#3c3cf6"}, "stroke": {"condition": {"test": "abs(datum.pop) > abs(datum.surv)", "value": "#c08189"}, "value": "#1010ff"}}},
   {"transform": [{"fold": ["coh","pop","surv","tot"], "as": ["series","v"]}], "mark": {"type": "line", "interpolate": "step-after"}, "encoding": {"x": {"field": "v", "type": "quantitative", "title": null}, "y": {"field": "hi", "type": "quantitative", "title": null}, "order": {"field": "hi", "type": "quantitative"}, "detail": {"field": "s", "type": "nominal"}, "color": {"field": "series", "type": "nominal"},
     "strokeDash": {"condition": [{"test": "datum.series == 'coh'", "value": [4,3]}, {"test": "datum.series == 'surv'", "value": [2.2,2.2]}], "value": [1,0]},
     "strokeWidth": {"condition": [{"test": "datum.series == 'pop'", "value": 5}, {"test": "datum.series == 'tot'", "value": 1.3}, {"test": "datum.series == 'coh'", "value": 2.2}], "value": 2.6}}},
   {"transform": [{"fold": ["coh","pop","surv","tot"], "as": ["series","v"]}, {"filter": "datum.lo == 0"}], "mark": {"type": "rule"}, "encoding": {"x": {"field": "v", "type": "quantitative", "title": null}, "y": {"field": "lo", "type": "quantitative", "title": null}, "y2": {"field": "hi"}, "color": {"field": "series", "type": "nominal"},
     "strokeDash": {"condition": [{"test": "datum.series == 'coh'", "value": [4,3]}, {"test": "datum.series == 'surv'", "value": [2.2,2.2]}], "value": [1,0]},
     "strokeWidth": {"condition": [{"test": "datum.series == 'pop'", "value": 5}, {"test": "datum.series == 'tot'", "value": 1.3}, {"test": "datum.series == 'coh'", "value": 2.2}], "value": 2.6}}},
   {"data": {"values": [{"t": "Male"}]}, "mark": {"type": "text", "align": "left", "baseline": "middle", "fontSize": 14.5, "font": "Liberation Serif", "color": "#000"}, "encoding": {"text": {"field": "t"}, "x": {"datum": -100}, "y": {"datum": 87.5}}},
   {"data": {"values": [{"t": "Female"}]}, "mark": {"type": "text", "align": "right", "baseline": "middle", "fontSize": 14.5, "font": "Liberation Serif", "color": "#000"}, "encoding": {"text": {"field": "t"}, "x": {"datum": 100}, "y": {"datum": 87.5}}}
  ]}
]
}
